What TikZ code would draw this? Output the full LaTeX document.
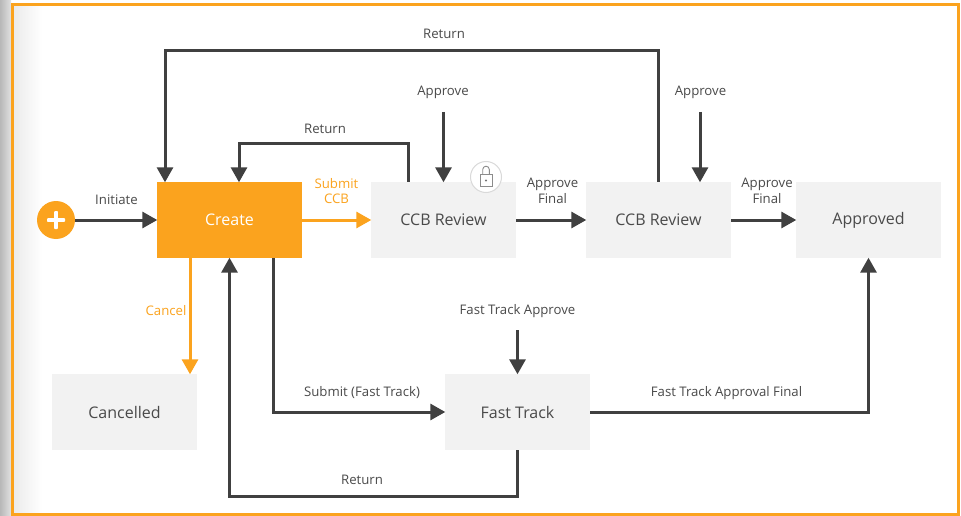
\documentclass[tikz,border=0pt]{standalone}
\usepackage{fontspec}
\setmainfont{Open Sans}
\usetikzlibrary{arrows.meta}
\definecolor{org}{HTML}{FBA31E}
\definecolor{dark}{HTML}{404040}
\definecolor{boxg}{HTML}{F2F2F2}
\definecolor{lbl}{HTML}{4A4A4A}
\tikzset{
  statebox/.style={fill=boxg,minimum width=145pt,minimum height=76pt,inner sep=0pt,text=lbl,font=\fontsize{16}{18}\selectfont},
  conn/.style={draw=dark,line width=3pt,-{Triangle[length=15pt,width=16pt]},shorten >=-0.5pt},
  oconn/.style={conn,draw=org,-{Triangle[length=15pt,width=16pt,color=org]}},
  lab/.style={text=lbl,font=\fontsize{13.2}{15.5}\selectfont,inner sep=0pt,align=center},
  olab/.style={lab,text=org}
}
\begin{document}
\begin{tikzpicture}[x=1pt,y=-1pt]
\useasboundingbox (0,0) rectangle (961,516);
\fill[white] (0,0) rectangle (961,516);
\fill[left color=black!28,right color=black!12] (0,0) rectangle (11,516);
\fill[left color=black!8,right color=white] (13,5) rectangle (42,516);
\draw[org,line width=2.8pt] (12.4,516.5) -- (12.4,4.6) -- (958.4,4.6) -- (958.4,514.6) -- (12.4,514.6);
% nodes
\node[statebox,fill=org,text=white] (create) at (229.5,220) {Create};
\node[statebox] (ccba) at (443.5,220) {CCB Review};
\node[statebox] (ccbb) at (658.5,220) {CCB Review};
\node[statebox] (appr) at (868.5,220) {Approved};
\node[statebox] (canc) at (124.5,412) {Cancelled};
\node[statebox] (fast) at (517.5,412) {Fast Track};
\node[circle,fill=org,minimum size=38pt,inner sep=0pt] (start) at (56,220) {};
\fill[white,rounded corners=0.8pt] (47,218.2) rectangle (65,221.8);
\fill[white,rounded corners=0.8pt] (54.2,211) rectangle (57.8,229);
% lock
\node[circle,draw=black!15,fill=white,line width=1pt,minimum size=31pt,inner sep=0pt] (lock) at (486,177) {};
\draw[black!45,line width=0.9pt] (480,174) rectangle (492,186);
\draw[black!45,line width=0.9pt] (482.7,174) -- (482.7,169.5) arc[start angle=180,end angle=0,x radius=3.3,y radius=-3.3] -- (489.3,174);
\fill[black!55] (486,180.5) circle (1.2);
% free ends
\coordinate (appa) at (443.5,112);
\coordinate (appb) at (700,112);
\coordinate (fta) at (517.5,330);
% connectors
\draw[conn] (start.east) -- (create.west);
\draw[oconn] (create.east) -- (ccba.west);
\draw[conn] (ccba.east) -- (ccbb.west);
\draw[conn] (ccbb.east) -- (appr.west);
\draw[conn] (appa) -- (ccba.north);
\draw[conn] (appb) -- (appb |- ccbb.north);
\draw[conn] (ccbb.north) -- ++(0,-131) -| ([xshift=-64.5pt]create.north);
\draw[conn] ([xshift=-35.5pt]ccba.north) -- ++(0,-38) -| ([xshift=9.5pt]create.north);
\draw[oconn] ([xshift=-39.5pt]create.south) -- ([xshift=65.5pt]canc.north);
\draw[conn] ([xshift=43.5pt]create.south) |- (fast.west);
\draw[conn] (fast.south) -- ++(0,46) -| (create.south);
\draw[conn] (fta) -- (fast.north);
\draw[conn] (fast.east) -| (appr.south);
% labels
\node[lab] (l1) at (444,34) {Return};
\node[lab] (l2) at (443,92) {Approve};
\node[lab] (l3) at (700.5,92) {Approve};
\node[lab] (l4) at (325,129) {Return};
\node[lab] (l5) at (116.5,200) {Initiate};
\node[olab] (l6) at (336.5,191) {Submit\\CCB};
\node[lab] (l7) at (552.5,191) {Approve\\Final};
\node[lab] (l8) at (767,191) {Approve\\Final};
\node[olab] (l9) at (166,311) {Cancel};
\node[lab] (l10) at (517.5,311) {Fast Track Approve};
\node[lab] (l11) at (362,393) {Submit (Fast Track)};
\node[lab] (l12) at (726.5,393) {Fast Track Approval Final};
\node[lab] (l13) at (362,480) {Return};
\end{tikzpicture}
\end{document}
